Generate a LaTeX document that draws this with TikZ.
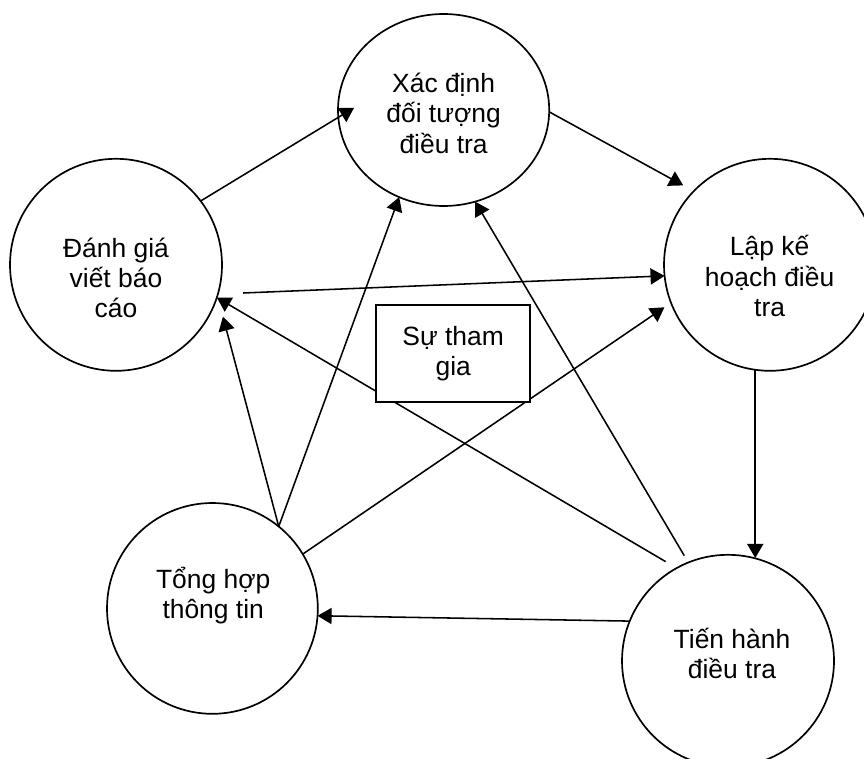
\documentclass[tikz,border=0pt]{standalone}
\usepackage{fontspec}
\setmainfont{Liberation Sans}
\usetikzlibrary{arrows.meta}
\usetikzlibrary{shapes}

\begin{document}
\begin{tikzpicture}[
  circ/.style={draw, circle, line width=1.2pt, minimum size=5.3cm, inner sep=0pt, outer sep=0pt},
  txt/.style={align=center, font=\fontsize{18.8}{21.5}\selectfont},
  arr/.style={-{Triangle[length=10pt,width=11.5pt]}, line width=1.1pt}
]
\useasboundingbox (0,0) rectangle (21.6,18.95);

% the five steps
\node [circ, ellipse, minimum width=5.28cm, minimum height=4.8cm] (xac) at (11.09,16.2) {};
\node [circ] (danh) at (2.9,12.33) {};
\node [circ] (lap) at (19.25,12.33) {};
\node [circ, minimum size=5.27cm] (tong) at (5.31,3.74) {};
\node [circ] (tien) at (18.2,2.43) {};

\node [txt] (xactxt) at (11.09,16.12) {Xác định\\ đối tượng\\ điều tra};
\node [txt] (danhtxt) at (2.9,12.0) {Đánh giá\\ viết báo\\ cáo};
\node [txt] (laptxt) at (19.24,12.05) {Lập kế\\ hoạch điều\\ tra};
\node [txt] (tongtxt) at (5.33,4.06) {Tổng hợp\\ thông tin};
\node [txt] (tientxt) at (18.3,2.61) {Tiến hành\\ điều tra};

% arrows
\draw [arr, shorten >=-0.46cm] (danh.37) -- (xac.184);
\draw [arr, shorten <=0.63cm] (danh.-16) -- (lap.186);
\draw [arr, shorten <=0.32cm] (tien.119) -- (danh.-18);
\draw [arr, shorten >=0.54cm] (tong.51) -- (danh.-17);
\draw [arr] (tong.51) -- (xac.243);
\draw [arr, shorten >=0.2cm] (tong.31) -- (lap.201);
\draw [arr] (tien.158) -- (tong.-4);
\draw [arr] (lap.-98) -- (lap.-98 |- tien.76);
\draw [arr, shorten >=0.3cm] (xac.-1) -- (lap.136);
\draw [arr, shorten <=0.2cm] (tien.112) -- (xac.-71);

\node [txt, draw, fill=white, line width=1.2pt, minimum width=3.85cm, minimum height=2.43cm] (thamgia) at (11.33,10.11) {Sự tham\\ gia};
\end{tikzpicture}
\end{document}
